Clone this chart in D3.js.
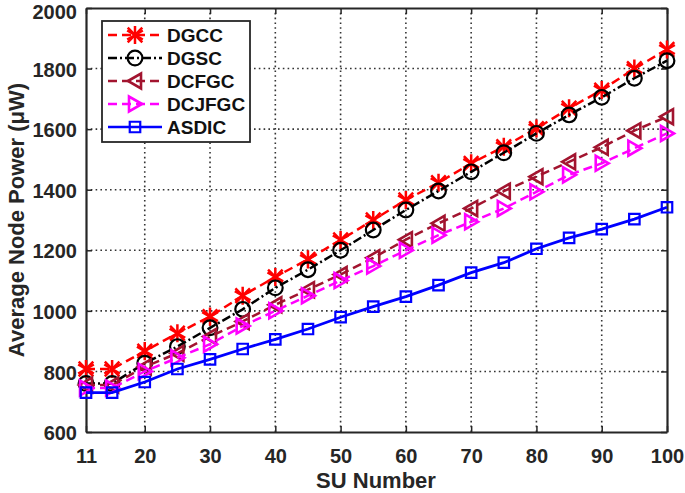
<!DOCTYPE html>
<html lang="en">
<head>
    <meta charset="UTF-8">
    <title>Average Node Power vs SU Number</title>
    <script src="https://d3js.org/d3.v7.min.js"></script>
    <style>
        body { margin: 0; background: #fff; font-family: "Liberation Sans", Arial, sans-serif; }
        .tick text { font-size: 20px; font-weight: bold; fill: #262626; }
        .axis-title { font-size: 22px; font-weight: bold; fill: #262626; }
        .legend text { font-size: 19px; font-weight: bold; fill: #111; }
    </style>
</head>
<body>
    <svg width="685" height="493"></svg>
    <script>
        const suNumber = [11, 15, 20, 25, 30, 35, 40, 45, 50, 55, 60, 65, 70, 75, 80, 85, 90, 95, 100];
        const xTicks = [11, 20, 30, 40, 50, 60, 70, 80, 90, 100];
        const yTicks = [600, 800, 1000, 1200, 1400, 1600, 1800, 2000];

        const dgcc   = [808, 808, 867, 926, 981, 1050, 1112, 1170, 1234, 1300, 1366, 1423, 1487, 1542, 1602, 1669, 1729, 1800, 1863];
        const dgsc   = [760, 760, 827, 882, 944, 1005, 1076, 1136, 1200, 1267, 1333, 1396, 1459, 1522, 1586, 1647, 1705, 1768, 1826];
        const dcfgc  = [755, 755, 815, 860, 915, 965, 1020, 1070, 1120, 1175, 1235, 1289, 1338, 1395, 1443, 1492, 1540, 1595, 1641];
        const dcjfgc = [745, 745, 800, 845, 890, 950, 1000, 1050, 1100, 1148, 1200, 1250, 1294, 1338, 1393, 1449, 1487, 1537, 1586];
        const asdic  = [730, 730, 765, 808, 840, 874, 906, 940, 979, 1014, 1047, 1085, 1126, 1159, 1205, 1241, 1270, 1303, 1342];

        const series = [
            { name: "DGCC",   values: dgcc,   color: "#ff0000", dash: "9,5",     marker: "star" },
            { name: "DGSC",   values: dgsc,   color: "#000000", dash: "9,3,2,3", marker: "circle" },
            { name: "DCFGC",  values: dcfgc,  color: "#a2142f", dash: "9,5",     marker: "left" },
            { name: "DCJFGC", values: dcjfgc, color: "#ff00ff", dash: "9,5",     marker: "right" },
            { name: "ASDIC",  values: asdic,  color: "#0000ff", dash: null,      marker: "square" }
        ];

        const margin = { top: 8, right: 18, bottom: 61, left: 86 },
              width = 685 - margin.left - margin.right,
              height = 493 - margin.top - margin.bottom;

        const svg = d3.select("svg")
            .append("g")
            .attr("transform", "translate(" + margin.left + "," + margin.top + ")");

        const x = d3.scaleLinear().domain([11, 100]).range([0, width]);
        const y = d3.scaleLinear().domain([600, 2000]).range([height, 0]);

        // grid
        svg.append("g").selectAll("line")
            .data(xTicks.slice(1, -1))
            .enter().append("line")
            .attr("x1", d => x(d)).attr("x2", d => x(d))
            .attr("y1", 0).attr("y2", height)
            .attr("stroke", "#333").attr("stroke-width", 1.6)
            .attr("stroke-dasharray", "1.6,3.2");
        svg.append("g").selectAll("line")
            .data(yTicks.slice(1, -1))
            .enter().append("line")
            .attr("x1", 0).attr("x2", width)
            .attr("y1", d => y(d)).attr("y2", d => y(d))
            .attr("stroke", "#333").attr("stroke-width", 1.6)
            .attr("stroke-dasharray", "1.6,3.2");

        // axes, ticks pointing inside
        svg.append("g")
            .attr("transform", "translate(0," + height + ")")
            .call(d3.axisBottom(x).tickValues(xTicks).tickFormat(d3.format("d"))
                .tickSizeInner(-6).tickSizeOuter(0).tickPadding(17));
        const yAxis = svg.append("g")
            .call(d3.axisLeft(y).tickValues(yTicks).tickFormat(d3.format("d"))
                .tickSizeInner(-6).tickSizeOuter(0).tickPadding(9));
        // top label would touch the page edge, nudge it down a bit
        yAxis.selectAll("text").attr("dy", d => d === 2000 ? "0.5em" : "0.38em");
        svg.append("g")
            .call(d3.axisTop(x).tickValues(xTicks).tickSizeInner(-6).tickSizeOuter(0).tickFormat(""));
        svg.append("g")
            .attr("transform", "translate(" + width + ",0)")
            .call(d3.axisRight(y).tickValues(yTicks).tickSizeInner(-6).tickSizeOuter(0).tickFormat(""));
        svg.selectAll(".domain").attr("stroke", "#262626").attr("stroke-width", 2.2);
        svg.selectAll(".tick line").attr("stroke", "#262626").attr("stroke-width", 1.5);

        // markers
        function drawMarker(g, type, color) {
            if (type === "left" || type === "right") {
                const s = type === "left" ? 1 : -1;
                g.append("path")
                    .attr("d", "M" + (-7 * s) + ",0L" + (6 * s) + ",-7.5L" + (6 * s) + ",7.5Z")
                    .attr("fill", "none").attr("stroke", color).attr("stroke-width", 2.6);
            } else if (type === "star") {
                g.append("path")
                    .attr("d", d3.symbol().type(d3.symbolAsterisk).size(230)())
                    .attr("fill", "none").attr("stroke", color).attr("stroke-width", 2.5);
                g.append("path")
                    .attr("d", d3.symbol().type(d3.symbolTimes).size(140)())
                    .attr("fill", "none").attr("stroke", color).attr("stroke-width", 2.5);
            } else if (type === "circle") {
                g.append("path")
                    .attr("d", d3.symbol().type(d3.symbolCircle).size(170)())
                    .attr("fill", "none").attr("stroke", color).attr("stroke-width", 2.2);
            } else {
                g.append("path")
                    .attr("d", d3.symbol().type(d3.symbolSquare).size(110)())
                    .attr("fill", "none").attr("stroke", color).attr("stroke-width", 2.2);
            }
        }

        // lines
        const line = d3.line().x(d => x(d[0])).y(d => y(d[1]));
        series.forEach(function(s) {
            const pts = suNumber.map((v, i) => [v, s.values[i]]);
            svg.append("path")
                .datum(pts)
                .attr("d", line)
                .attr("fill", "none")
                .attr("stroke", s.color)
                .attr("stroke-width", s.dash ? 2.5 : 2.8)
                .attr("stroke-dasharray", s.dash);
            pts.forEach(function(p) {
                const g = svg.append("g").attr("transform", "translate(" + x(p[0]) + "," + y(p[1]) + ")");
                drawMarker(g, s.marker, s.color);
            });
        });

        // legend
        const legend = svg.append("g").attr("class", "legend").attr("transform", "translate(16,13)");
        legend.append("rect")
            .attr("width", 148).attr("height", 121)
            .attr("fill", "#fff").attr("stroke", "#262626").attr("stroke-width", 1.8);
        series.forEach(function(s, i) {
            const g = legend.append("g").attr("transform", "translate(0," + (14 + i * 23) + ")");
            g.append("line")
                .attr("x1", 6).attr("x2", 60).attr("y1", 0).attr("y2", 0)
                .attr("stroke", s.color).attr("stroke-width", 2.5)
                .attr("stroke-dasharray", s.dash);
            const m = g.append("g").attr("transform", "translate(33,0)");
            drawMarker(m, s.marker, s.color);
            g.append("text").attr("x", 65).attr("y", 7).text(s.name);
        });

        // titles
        svg.append("text")
            .attr("class", "axis-title")
            .attr("x", 290).attr("y", height + 56)
            .attr("text-anchor", "middle")
            .text("SU Number");
        svg.append("text")
            .attr("class", "axis-title")
            .attr("transform", "translate(-62," + (220 - margin.top) + ") rotate(-90)")
            .attr("text-anchor", "middle")
            .text("Average Node Power (μW)");
    </script>
</body>
</html>
